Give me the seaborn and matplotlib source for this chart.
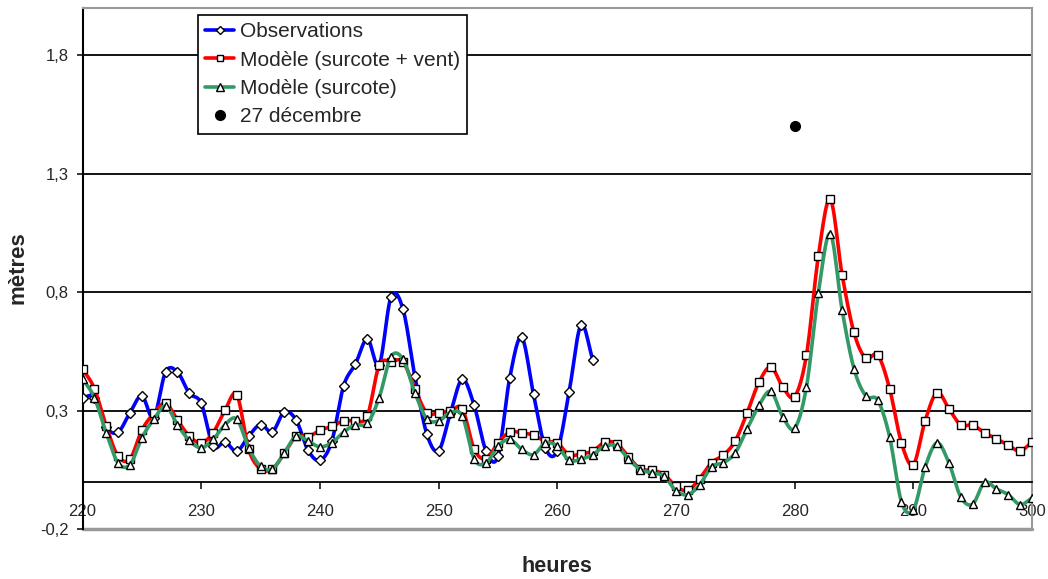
import numpy as np
import seaborn as sns
import matplotlib.pyplot as plt

sns.set_style("white")
plt.rcParams['font.family'] = ['Liberation Sans', 'DejaVu Sans']

hours_obs = list(range(220, 264))
hours_mod = list(range(220, 301))

observations = [0.355, 0.354, 0.23, 0.209, 0.291, 0.362, 0.27, 0.463, 0.463, 0.373,
                0.331, 0.150, 0.168, 0.128, 0.192, 0.241, 0.21, 0.294, 0.26, 0.133,
                0.09, 0.17, 0.404, 0.497, 0.602, 0.494, 0.781, 0.729, 0.446, 0.203,
                0.131, 0.29, 0.432, 0.322, 0.131, 0.107, 0.439, 0.609, 0.369, 0.143,
                0.13, 0.379, 0.661, 0.514]

surcote_vent = [0.477, 0.393, 0.234, 0.107, 0.096, 0.217, 0.288, 0.331, 0.26, 0.192,
                0.164, 0.206, 0.301, 0.367, 0.136, 0.054, 0.054, 0.119, 0.192, 0.189,
                0.217, 0.233, 0.257, 0.257, 0.277, 0.492, 0.506, 0.506, 0.393, 0.291,
                0.291, 0.298, 0.308, 0.138, 0.096, 0.164, 0.209, 0.206, 0.196, 0.171,
                0.164, 0.112, 0.118, 0.129, 0.166, 0.161, 0.105, 0.054, 0.048, 0.030,
                -0.02, -0.037, 0.013, 0.08, 0.112, 0.172, 0.291, 0.42, 0.484, 0.40,
                0.359, 0.535, 0.952, 1.192, 0.874, 0.63, 0.52, 0.535, 0.393, 0.164,
                0.072, 0.258, 0.376, 0.308, 0.239, 0.239, 0.206, 0.181, 0.154, 0.129,
                0.168]

surcote = [0.435, 0.355, 0.206, 0.079, 0.072, 0.185, 0.263, 0.319, 0.24, 0.174,
           0.143, 0.178, 0.24, 0.264, 0.143, 0.065, 0.054, 0.121, 0.192, 0.171,
           0.147, 0.164, 0.209, 0.24, 0.246, 0.355, 0.528, 0.517, 0.376, 0.266,
           0.256, 0.291, 0.277, 0.096, 0.079, 0.15, 0.178, 0.136, 0.114, 0.164,
           0.15, 0.09, 0.095, 0.114, 0.15, 0.15, 0.096, 0.051, 0.037, 0.023,
           -0.038, -0.055, -0.013, 0.063, 0.08, 0.122, 0.223, 0.322, 0.381, 0.274,
           0.225, 0.401, 0.797, 1.047, 0.725, 0.477, 0.362, 0.344, 0.19, -0.085,
           -0.119, 0.062, 0.164, 0.079, -0.065, -0.095, -0.003, -0.031, -0.055, -0.097,
           -0.069]

dec27_x = [280]
dec27_y = [1.5]

y_ticks = [-0.2, 0.3, 0.8, 1.3, 1.8]
x_ticks = list(range(220, 301, 10))


def smooth(x, y, n=12):
    # catmull-rom curve through the points, like excel "smoothed line"
    x = np.asarray(x, float)
    y = np.asarray(y, float)
    px = np.concatenate([[2 * x[0] - x[1]], x, [2 * x[-1] - x[-2]]])
    py = np.concatenate([[2 * y[0] - y[1]], y, [2 * y[-1] - y[-2]]])
    xs, ys = [], []
    t = np.linspace(0, 1, n, endpoint=False)
    for i in range(1, len(px) - 2):
        for arr, out in ((px, xs), (py, ys)):
            p0, p1, p2, p3 = arr[i - 1], arr[i], arr[i + 1], arr[i + 2]
            out.extend(0.5 * ((2 * p1) + (-p0 + p2) * t
                              + (2 * p0 - 5 * p1 + 4 * p2 - p3) * t ** 2
                              + (-p0 + 3 * p1 - 3 * p2 + p3) * t ** 3))
    xs.append(x[-1])
    ys.append(y[-1])
    return np.array(xs), np.array(ys)


fig = plt.figure(figsize=(10.48, 5.79), dpi=100)
ax = fig.add_axes([82.5 / 1048, 50 / 579, 949.5 / 1048, 521 / 579])

series = [
    (hours_obs, observations, '#0000ff', 'D', 5, 'Observations'),
    (hours_mod, surcote_vent, '#ff0000', 's', 5.5, 'Modèle (surcote + vent)'),
    (hours_mod, surcote, '#339966', '^', 6, 'Modèle (surcote)'),
]
handles = []
for k, (hx, hy, col, mk, ms, lab) in enumerate(series):
    sx, sy = smooth(hx, hy)
    sns.lineplot(x=sx, y=sy, ax=ax, color=col, lw=2.6, sort=False,
                 estimator=None, zorder=3 + 2 * k)
    ax.plot(hx, hy, linestyle='none', marker=mk, ms=ms, mfc='white',
            mec='black', mew=1.0, zorder=4 + 2 * k)
    h, = ax.plot([], [], color=col, lw=2.6, marker=mk, ms=ms - 0.5, mfc='white',
                 mec='black', mew=1.0, label=lab)
    handles.append(h)

h, = ax.plot(dec27_x, dec27_y, linestyle='none', marker='o', ms=7,
             color='black', zorder=10, label='27 décembre')
handles.append(h)

for yv in y_ticks[1:]:
    ax.axhline(yv, color='black', lw=1.3, zorder=1)

ax.set_xlim(220, 300)
ax.set_ylim(-0.2, 2.0)

ax.spines['bottom'].set_position(('data', 0))
ax.spines['bottom'].set_color('black')
ax.spines['bottom'].set_linewidth(1.3)
ax.spines['left'].set_color('black')
ax.spines['left'].set_linewidth(1.5)
for s in ('top', 'right'):
    ax.spines[s].set_color('#999999')
    ax.spines[s].set_linewidth(1.5)
ax.plot([220, 300], [-0.2, -0.2], color='#999999', lw=2.5, clip_on=False, zorder=0)

ax.set_yticks(y_ticks)
ax.set_yticklabels([f"{v:.1f}".replace('.', ',') for v in y_ticks])
ax.set_xticks(x_ticks)
ax.set_xticklabels([str(v) for v in x_ticks])
ax.tick_params(axis='y', direction='out', length=4, width=1.3, pad=6,
               labelsize=12, left=True)
ax.tick_params(axis='x', direction='out', length=5, width=1.3, pad=11,
               labelsize=12, bottom=True)

ax.set_xlabel('')
ax.set_ylabel('')
fig.text(557 / 1048, 1 - 566 / 579, 'heures', ha='center', va='center',
         fontsize=15.5, fontweight='bold')
fig.text(18 / 1048, 1 - 268 / 579, 'mètres', ha='center', va='center',
         rotation=90, fontsize=16, fontweight='bold')

leg = ax.legend(handles=handles, loc='upper left',
                bbox_to_anchor=((198 - 82.5) / 949.5, 1 - 7 / 521),
                borderaxespad=0, fontsize=15, numpoints=1, handlelength=1.4,
                handletextpad=0.25, labelspacing=0.45, borderpad=0.35,
                frameon=True, fancybox=False, framealpha=1)
leg.get_frame().set_edgecolor('black')
leg.get_frame().set_linewidth(1.2)
leg.set_zorder(20)

fig.savefig('out.png', dpi=100)
